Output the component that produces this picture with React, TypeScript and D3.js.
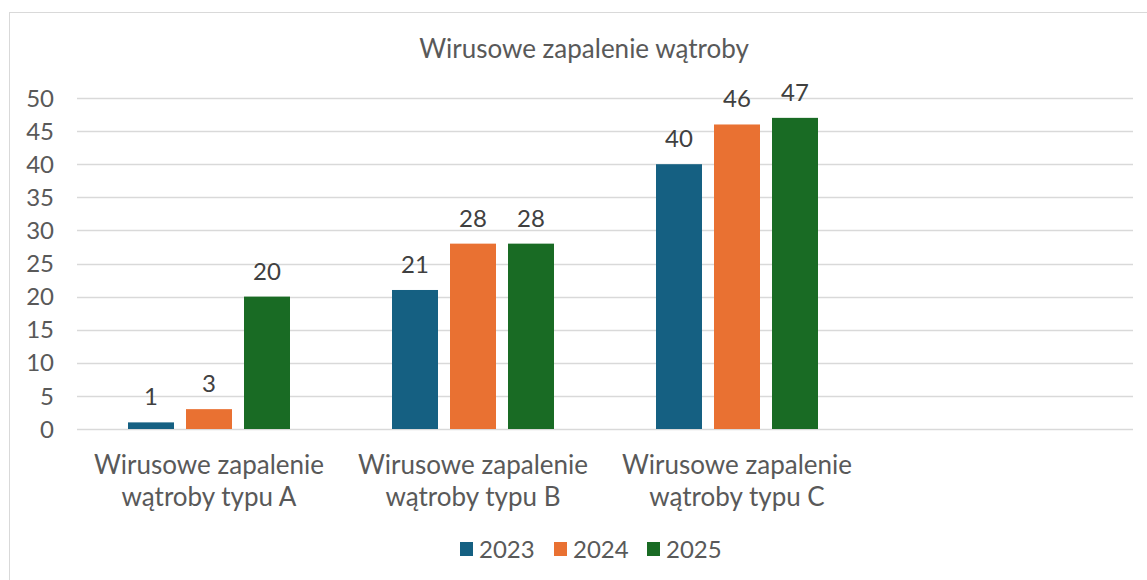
import React, {useEffect, useRef} from "react";
import * as d3 from "d3";

// chart data
const categories = [
	["Wirusowe zapalenie", "wątroby typu A"],
	["Wirusowe zapalenie", "wątroby typu B"],
	["Wirusowe zapalenie", "wątroby typu C"],
	["", ""],
];
const seriesNames = ["2023", "2024", "2025"];
const values2023 = [1, 21, 40];
const values2024 = [3, 28, 46];
const values2025 = [20, 28, 47];
const yTicks = [0, 5, 10, 15, 20, 25, 30, 35, 40, 45, 50];
const colors = ["#156082", "#E97132", "#196B24"];

const title = "Wirusowe zapalenie wątroby";

const W = 1147;
const H = 580;

const App: React.FC = () => {
	const svgRef = useRef<SVGSVGElement>(null);

	useEffect(() => {
		const svg = d3.select(svgRef.current);
		svg.selectAll("*").remove();

		const font = "Lato, 'Open Sans', sans-serif";
		const textColor = "#595959";
		const plot = {left: 77, right: 1133, top: 98, bottom: 429};

		// outer chart border
		svg.append("rect")
			.attr("x", 9.5)
			.attr("y", 12.5)
			.attr("width", 1154)
			.attr("height", 600)
			.attr("fill", "#fff")
			.attr("stroke", "#D9D9D9")
			.attr("stroke-width", 1);

		const xScale = d3
			.scaleBand()
			.domain(categories.map((_, i) => String(i)))
			.range([plot.left, plot.right])
			.padding(0);

		const yScale = d3
			.scaleLinear()
			.domain([0, 50])
			.range([plot.bottom, plot.top]);

		// gridlines
		svg.append("g")
			.selectAll("line")
			.data(yTicks)
			.enter()
			.append("line")
			.attr("x1", plot.left)
			.attr("x2", plot.right)
			.attr("y1", (d) => Math.round(yScale(d)) + 0.5)
			.attr("y2", (d) => Math.round(yScale(d)) + 0.5)
			.attr("stroke", "#D9D9D9")
			.attr("stroke-width", 1.5);

		// y labels
		svg.append("g")
			.selectAll("text")
			.data(yTicks)
			.enter()
			.append("text")
			.attr("x", 54)
			.attr("y", (d) => yScale(d))
			.attr("dy", "0.36em")
			.attr("text-anchor", "end")
			.style("font-family", font)
			.style("font-size", "24px")
			.style("fill", textColor)
			.text((d) => d);

		// bars
		const series = [values2023, values2024, values2025];
		const barWidth = 46;
		const barGap = 12;
		const groupWidth = series.length * barWidth + (series.length - 1) * barGap;

		series.forEach((vals, si) => {
			const g = svg.append("g");
			const xPos = (i: number) =>
				(xScale(String(i)) || 0) +
				xScale.bandwidth() / 2 -
				groupWidth / 2 +
				si * (barWidth + barGap);

			g.selectAll("rect")
				.data(vals)
				.enter()
				.append("rect")
				.attr("x", (_, i) => xPos(i))
				.attr("y", (d) => yScale(d))
				.attr("width", barWidth)
				.attr("height", (d) => yScale(0) - yScale(d))
				.attr("fill", colors[si]);

			g.selectAll("text")
				.data(vals)
				.enter()
				.append("text")
				.attr("x", (_, i) => xPos(i) + barWidth / 2)
				.attr("y", (d) => yScale(d) - 17)
				.attr("text-anchor", "middle")
				.style("font-family", font)
				.style("font-size", "24px")
				.style("fill", "#404040")
				.text((d) => d);
		});

		// category labels
		const catG = svg.append("g");
		categories.forEach((lines, i) => {
			const cx = (xScale(String(i)) || 0) + xScale.bandwidth() / 2;
			lines.forEach((line, li) => {
				catG.append("text")
					.attr("x", cx)
					.attr("y", 474 + li * 32)
					.attr("text-anchor", "middle")
					.style("font-family", font)
					.style("font-size", "26px")
					.style("fill", textColor)
					.text(line);
			});
		});

		// title
		svg.append("text")
			.attr("x", 584)
			.attr("y", 58)
			.attr("text-anchor", "middle")
			.style("font-family", font)
			.style("font-size", "26px")
			.style("fill", textColor)
			.text(title);

		// legend
		const legendX = [460, 554, 647];
		const legend = svg.append("g");
		seriesNames.forEach((name, i) => {
			legend.append("rect")
				.attr("x", legendX[i])
				.attr("y", 542)
				.attr("width", 13)
				.attr("height", 14)
				.attr("fill", colors[i]);
			legend.append("text")
				.attr("x", legendX[i] + 19)
				.attr("y", 558)
				.style("font-family", font)
				.style("font-size", "24px")
				.style("fill", textColor)
				.text(name);
		});
	}, []);

	return (
		<div style={{position: "absolute", left: 0, top: 0, width: W, height: H, overflow: "hidden"}}>
			<svg ref={svgRef} width={W} height={H} />
		</div>
	);
};

export default App;
